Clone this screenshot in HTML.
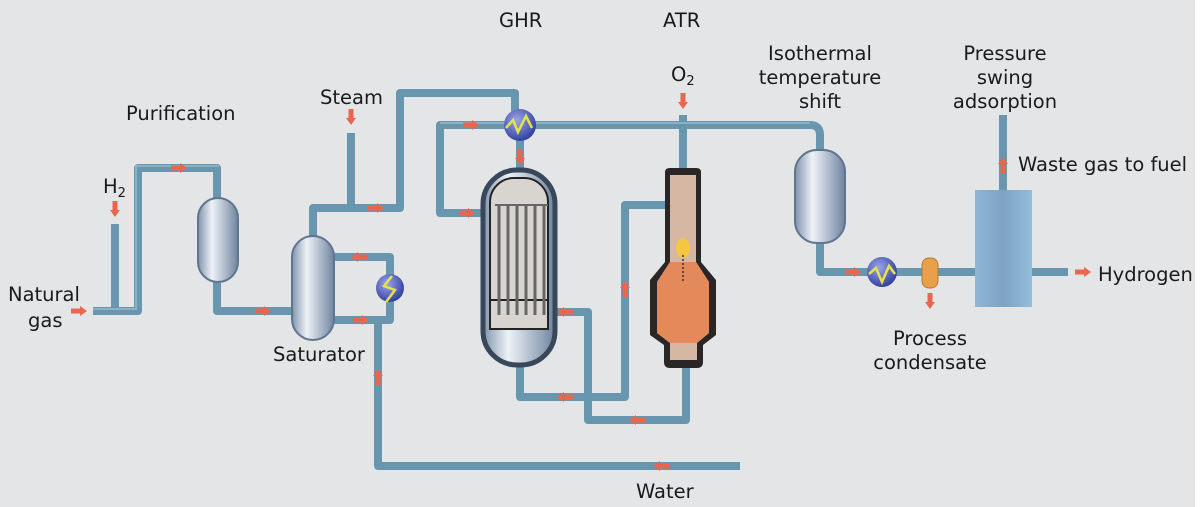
<!DOCTYPE html>
<html><head><meta charset="utf-8"><style>
body{margin:0;background:#e4e5e7;}
svg{display:block;font-family:"DejaVu Sans","Liberation Sans",sans-serif;}
text{font-size:19.5px;fill:#1a1a1a;}
</style></head><body>
<svg width="1200" height="507" viewBox="0 0 1200 507">
<defs>
<linearGradient id="v" x1="0" x2="1"><stop offset="0" stop-color="#7f93ad"/><stop offset=".35" stop-color="#eef2f7"/><stop offset="1" stop-color="#6f84a0"/></linearGradient>
<radialGradient id="hx" cx=".4" cy=".35" r=".7"><stop offset="0" stop-color="#9aa6e8"/><stop offset="1" stop-color="#2c3a9a"/></radialGradient>
<linearGradient id="psa" x1="0" x2="1"><stop offset="0" stop-color="#8fb6d6"/><stop offset=".5" stop-color="#7ea3c4"/><stop offset="1" stop-color="#94bddb"/></linearGradient>
<g id="ar"><rect x="-7" y="-2.5" width="9" height="5" fill="#e9654e"/><polygon points="2,-5 9,0 2,5" fill="#e9654e"/></g>
</defs>
<rect width="1200" height="507" fill="#e4e5e7"/>
<rect x="1195" y="0" width="5" height="507" fill="#fff"/>
<g fill="none" stroke="#6896ae" stroke-width="8" stroke-linejoin="round">
<path d="M93 311H138V168H217V200"/>
<path d="M115 224V311"/>
<path d="M217 280V311H292"/>
<path d="M313 236V208H400V93H515V125"/>
<path d="M351 133V208"/>
<path d="M334 257H390V320H334"/>
<path d="M378 320V466H740"/>
<path d="M440 125H810Q820 125 820 135V150"/>
<path d="M483 125H440V213H483"/>
<path d="M520 125V172"/>
<path d="M555 312H588V420H686V365"/>
<path d="M520 365V397H625V205H665"/>
<path d="M683 115V250"/>
<path d="M820 240V272H975"/>
<path d="M1003 115V190"/>
<path d="M1032 272H1068"/>
</g>
<g fill="none" stroke="#98bccd" stroke-width="2" opacity=".7">
<path d="M93 309H136V166H219"/>
<path d="M440 123H810"/>
</g>
<rect x="198" y="198" width="40" height="84" rx="20" fill="url(#v)" stroke="#5f7590" stroke-width="2"/>
<rect x="292" y="236" width="42" height="104" rx="21" fill="url(#v)" stroke="#5f7590" stroke-width="2"/>
<rect x="795" y="150" width="50" height="93" rx="22" fill="url(#v)" stroke="#5f7590" stroke-width="2"/>
<rect x="483" y="170" width="72" height="195" rx="34" fill="url(#v)" stroke="#39475a" stroke-width="5"/>
<rect x="490" y="178" width="58" height="150" rx="24" fill="#d8d5d0" stroke="#222" stroke-width="2"/>
<rect x="490" y="300" width="58" height="29" fill="#d8d5d0" stroke="#222" stroke-width="2"/>
<g stroke="#666" stroke-width="3"><path d="M499 205V315M508 205V315M517 205V315M526 205V315M535 205V315M544 205V315"/></g>
<path d="M495 205H548" stroke="#666" stroke-width="2"/>
<path d="M665 172Q665 168 670 168H696Q701 168 701 172V262L716 280V335L703 345V362Q703 368 697 368H670Q664 368 664 362V345L650 335V280L665 262Z" fill="#2a2626"/>
<path d="M670 175H696V262L709 282V333L697 343V360H670V343L657 333V282L670 262Z" fill="#d5b7a3"/>
<path d="M657 282L670 262H696L709 282V333L697 343H670L657 333Z" fill="#e48959"/>
<ellipse cx="683" cy="248" rx="7" ry="10" fill="#f5c640"/>
<path d="M683 255V282" stroke="#333" stroke-dasharray="2 2" stroke-width="1.5"/>
<circle cx="520" cy="125" r="16" fill="url(#hx)"/>
<path d="M506 128L513 120L518 132L526 116L532 128" stroke="#e6e24a" stroke-width="2.5" fill="none"/>
<circle cx="390" cy="288" r="14" fill="url(#hx)"/>
<path d="M392 276L384 286L395 290L386 302" stroke="#e6e24a" stroke-width="2.5" fill="none"/>
<circle cx="882" cy="272" r="15" fill="url(#hx)"/>
<path d="M869 274L876 268L882 282L889 266L895 274" stroke="#e6e24a" stroke-width="2.5" fill="none"/>
<rect x="922" y="258" width="16" height="30" rx="7" fill="#e8a04a" stroke="#b77a2e"/>
<rect x="975" y="190" width="57" height="117" fill="url(#psa)"/>
<use href="#ar" transform="translate(78,311)"/>
<use href="#ar" transform="translate(115,208) rotate(90)"/>
<use href="#ar" transform="translate(178,168)"/>
<use href="#ar" transform="translate(262,311)"/>
<use href="#ar" transform="translate(351,116) rotate(90)"/>
<use href="#ar" transform="translate(375,208)"/>
<use href="#ar" transform="translate(360,257) rotate(180)"/>
<use href="#ar" transform="translate(360,320)"/>
<use href="#ar" transform="translate(378,378) rotate(-90)"/>
<use href="#ar" transform="translate(662,466) rotate(180)"/>
<use href="#ar" transform="translate(470,125)"/>
<use href="#ar" transform="translate(466,213)"/>
<use href="#ar" transform="translate(520,156) rotate(90)"/>
<use href="#ar" transform="translate(566,312) rotate(180)"/>
<use href="#ar" transform="translate(566,397) rotate(180)"/>
<use href="#ar" transform="translate(625,290) rotate(-90)"/>
<use href="#ar" transform="translate(638,420) rotate(180)"/>
<use href="#ar" transform="translate(683,100) rotate(90)"/>
<use href="#ar" transform="translate(852,272)"/>
<use href="#ar" transform="translate(930,300) rotate(90)"/>
<use href="#ar" transform="translate(1003,166) rotate(-90)"/>
<use href="#ar" transform="translate(1082,272)"/>
<text x="8" y="301">Natural</text>
<text x="28" y="327">gas</text>
<text x="103" y="193">H<tspan font-size="13" dy="4">2</tspan></text>
<text x="126" y="120">Purification</text>
<text x="320" y="104">Steam</text>
<text x="273" y="361">Saturator</text>
<text x="499" y="27">GHR</text>
<text x="663" y="27">ATR</text>
<text x="671" y="81">O<tspan font-size="13" dy="4">2</tspan></text>
<text x="820" y="60" text-anchor="middle">Isothermal</text>
<text x="820" y="84" text-anchor="middle">temperature</text>
<text x="820" y="108" text-anchor="middle">shift</text>
<text x="1005" y="60" text-anchor="middle">Pressure</text>
<text x="1005" y="84" text-anchor="middle">swing</text>
<text x="1005" y="108" text-anchor="middle">adsorption</text>
<text x="1018" y="171">Waste gas to fuel</text>
<text x="1098" y="281">Hydrogen</text>
<text x="930" y="345" text-anchor="middle">Process</text>
<text x="930" y="369" text-anchor="middle">condensate</text>
<text x="636" y="498">Water</text>
</svg>
</body></html>
